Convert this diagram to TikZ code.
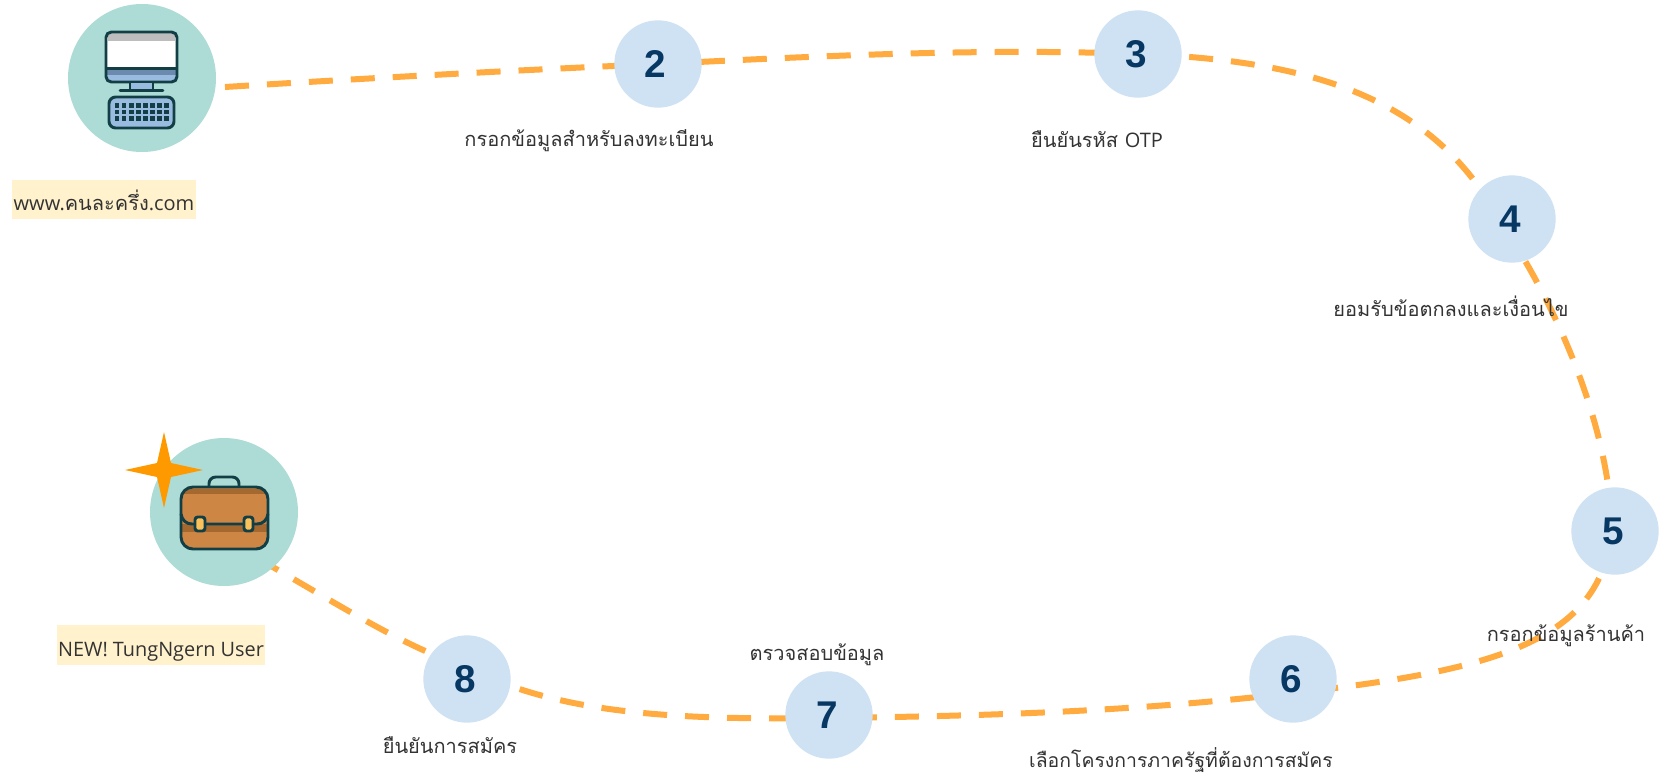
\documentclass[tikz,border=0pt]{standalone}
\usepackage{fontspec}
\setmainfont{Liberation Sans}
\newfontfamily\thaifont[Script=Thai]{Loma}
\newfontfamily\latinfont{Open Sans}
\usetikzlibrary{calc}
\definecolor{teal1}{HTML}{ADDCD6}
\definecolor{blue1}{HTML}{CFE2F3}
\definecolor{navy1}{HTML}{073763}
\definecolor{route1}{HTML}{FFAB40}
\definecolor{label1}{HTML}{FFF2CC}
\definecolor{ink1}{HTML}{123F45}
\definecolor{textc}{HTML}{333333}
\definecolor{screen1}{HTML}{BDBDBD}
\definecolor{steel1}{HTML}{6C8AAD}
\definecolor{sky1}{HTML}{9ABBE0}
\definecolor{case1}{HTML}{CE8644}
\definecolor{case2}{HTML}{A5682F}
\definecolor{clasp1}{HTML}{FBC25C}
\definecolor{star1}{HTML}{FF9900}
\tikzset{
  x=0.75pt,y=-0.75pt,
  bigdisc/.style={circle,fill=teal1,minimum size=111pt,inner sep=0pt},
  numdisc/.style={circle,fill=blue1,minimum size=65.5pt,inner sep=0pt,text=navy1,font=\fontsize{29pt}{30pt}\selectfont\bfseries},
  caption/.style={text=textc,inner sep=0pt,font=\thaifont\fontsize{15pt}{18pt}\selectfont},
  tag/.style={fill=label1,inner sep=0pt,text=textc,text height=20pt,text depth=3.5pt,font=\thaifont\fontsize{15pt}{18pt}\selectfont},
  route/.style={draw=route1,line width=4.5pt,dash pattern=on 18pt off 13.5pt,dash phase=#1},
  route/.default=0pt,
  icon/.style={draw=ink1,line width=2.2pt,line join=round},
}
\begin{document}
\begin{tikzpicture}
\useasboundingbox (0,0) rectangle (1665,775);
\fill[white] (0,0) rectangle (1665,775);
% positions
\coordinate (s1) at (225,87);
\coordinate (e8) at (250,554);
\coordinate (a2) at (658,64);
\coordinate (a3) at (1138,54);
\coordinate (a4) at (1499,219);
\coordinate (a5) at (1612,531);
\coordinate (a6) at (1293,693);
\coordinate (a7) at (829,718);
\coordinate (a8) at (466,667);
% connector
\draw[route=0pt] (s1) .. controls (370,78) and (520,70) .. (a2);
\draw[route=30.8pt] (a2) .. controls (820,56) and (980,48) .. (a3);
\draw[route=24.6pt] (a3) .. controls (1300,60) and (1430,92) .. (a4);
\draw[route=25.4pt] (a4) .. controls (1560,310) and (1610,430) .. (a5);
\draw[route=15.5pt] (a6) .. controls (1500,670) and (1600,640) .. (a5);
\draw[route=2.25pt] (a6) .. controls (1130,712) and (980,716) .. (a7);
\draw[route=4.5pt] (a7) .. controls (680,720) and (560,715) .. (a8);
\draw[route=30.2pt] (a8) .. controls (400,645) and (340,605) .. (e8);
% discs
\node[bigdisc] (n1) at (142,78) {};
\node[bigdisc] (n9) at (224,512) {};
\node[numdisc] (n2) at (658,64) {\kern-4pt 2};
\node[numdisc] (n3) at (1138,54) {\kern-2pt 3};
\node[numdisc] (n4) at (1512,219) {\kern-3pt 4};
\node[numdisc] (n5) at (1615,531) {\kern-2pt 5};
\node[numdisc] (n6) at (1293,679) {\kern-3pt 6};
\node[numdisc] (n7) at (829,715) {\kern-2pt 7};
\node[numdisc] (n8) at (467,679) {\kern-3pt 8};
% computer icon
\fill[white,rounded corners=4pt] (106,32) rectangle (177,82);
\fill[screen1] (108,33) rectangle (175,41);
\fill[steel1] (107,69) rectangle (176,75);
\fill[sky1] (107,75) rectangle (176,81);
\draw[icon,rounded corners=4pt] (106,32) rectangle (177,82);
\draw[icon] (106,68.5) -- (177,68.5);
\draw[icon,fill=sky1] (130,82) rectangle (153,90);
\draw[icon,line cap=round] (120,90.5) -- (163,90.5);
\draw[icon,fill=sky1,rounded corners=5pt] (109,97) rectangle (174,128);
\foreach \c in {0,...,7}{\foreach \r in {0,1,2}{
  \fill[ink1] ({114.5+\c*7.1},{103+\r*6.6}) rectangle ++(4.8,4.8);}}
% briefcase icon
\draw[icon,rounded corners=5pt] (209,487) -- (209,477) -- (239,477) -- (239,487);
\fill[rounded corners=9pt,fill=case1] (181,487) rectangle (268,549);
\fill[fill=case2] (184,489) rectangle (265,494);
\fill[fill=case2] (182,524) rectangle (267,532);
\draw[icon,rounded corners=9pt] (181,487) rectangle (268,549);
\draw[icon] (181,514) .. controls (182,520) and (186,524) .. (192,524) -- (257,524) .. controls (263,524) and (267,520) .. (268,514);
\draw[icon,fill=clasp1,rounded corners=2pt] (195,517) rectangle (205,531);
\draw[icon,fill=clasp1,rounded corners=2pt] (244,517) rectangle (253,531);
% star
\fill[star1] (125,470) -- (157,463) -- (164,432) -- (171,463) -- (203,470) -- (171,477) -- (164,508) -- (157,477) -- cycle;
% labels
\node[tag,minimum width=138pt,minimum height=29pt] (t1) at (104,199.5) {{\latinfont www.}คนละครึ่ง{\latinfont .com}};
\node[tag,minimum width=156pt,minimum height=30pt] (t9) at (161,645) {{\latinfont\fontsize{14.9pt}{18pt}\selectfont NEW! TungNgern User}};
\node[caption] (c2) at (589,141) {กรอกข้อมูลสำหรับลงทะเบียน};
\node[caption] (c3) at (1097,139) {ยืนยันรหัส {\latinfont OTP}};
\node[caption] (c4) at (1451,306) {ยอมรับข้อตกลงและเงื่อนไข};
\node[caption] (c5) at (1566,636) {กรอกข้อมูลร้านค้า};
\node[caption,font=\thaifont\fontsize{14.55pt}{18pt}\selectfont] (c6) at (1181,760) {เลือกโครงการภาครัฐที่ต้องการสมัคร};
\node[caption] (c7) at (817,655) {ตรวจสอบข้อมูล};
\node[caption] (c8) at (450,745) {ยืนยันการสมัคร};
\end{tikzpicture}
\end{document}
